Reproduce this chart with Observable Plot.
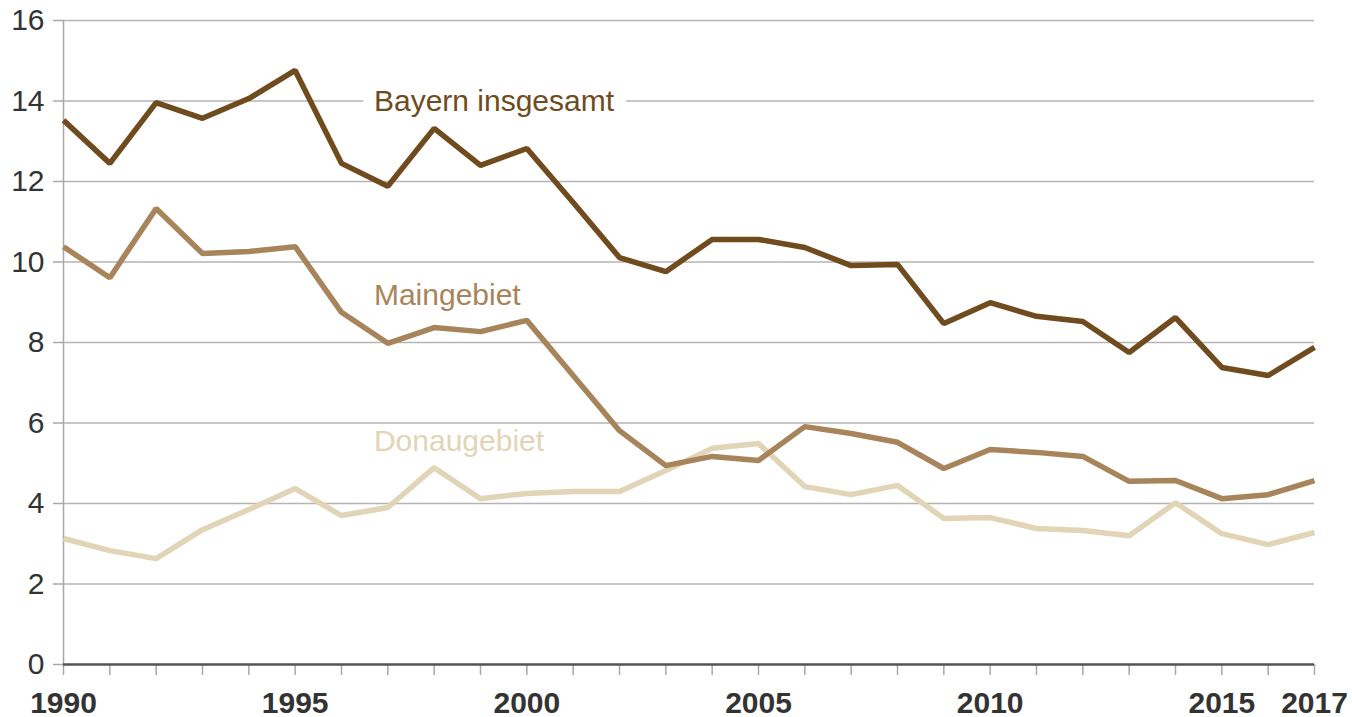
<!DOCTYPE html>
<html>
<head>
<meta charset="utf-8">
<script src="https://cdn.jsdelivr.net/npm/d3@7"></script>
<script src="https://cdn.jsdelivr.net/npm/@observablehq/plot@0.6"></script>
<style>
  html, body { margin: 0; padding: 0; background: #fff; }
  #chart { width: 1352px; height: 717px; }
</style>
</head>
<body>
<div id="chart"></div>
<script>
const years = d3.range(1990, 2018);
const labeledYears = [1990, 1995, 2000, 2005, 2010, 2015, 2017];
const yTicks = [0, 2, 4, 6, 8, 10, 12, 14, 16];

const bayern = [13.52, 12.45, 13.96, 13.57, 14.06, 14.76, 12.45, 11.88, 13.32, 12.40,
                12.82, 11.48, 10.11, 9.76, 10.56, 10.56, 10.36, 9.91, 9.94, 8.47,
                8.99, 8.65, 8.52, 7.75, 8.62, 7.38, 7.18, 7.88];
const main   = [10.38, 9.61, 11.33, 10.21, 10.26, 10.38, 8.75, 7.98, 8.37, 8.27,
                8.55, 7.18, 5.81, 4.94, 5.17, 5.07, 5.91, 5.74, 5.52, 4.87,
                5.34, 5.27, 5.17, 4.55, 4.57, 4.12, 4.22, 4.57];
const donau  = [3.13, 2.83, 2.63, 3.35, 3.85, 4.37, 3.70, 3.90, 4.89, 4.12,
                4.25, 4.30, 4.30, 4.82, 5.37, 5.49, 4.42, 4.22, 4.45, 3.63,
                3.65, 3.38, 3.33, 3.20, 4.02, 3.25, 2.98, 3.28];

const seriesNames = ["Bayern insgesamt", "Maingebiet", "Donaugebiet"];
const seriesColors = ["#6f4b1e", "#a8845a", "#e2d5b7"];
const labelYears = [1996.7, 1996.7, 1996.7];
const labelValues = [14, 9.17, 5.54];

const rows = [];
[bayern, main, donau].forEach((vals, i) => {
  vals.forEach((v, j) => rows.push({series: seriesNames[i], year: years[j], value: v}));
});
const labels = seriesNames.map((s, i) => ({series: s, year: labelYears[i], value: labelValues[i]}));

const font = "'Liberation Sans', Arial, Helvetica, sans-serif";

const chart = Plot.plot({
  width: 1352,
  height: 717,
  marginLeft: 63,
  marginRight: 38,
  marginTop: 20,
  marginBottom: 53,
  style: {fontFamily: font, background: "#fff", overflow: "visible"},
  x: {domain: [1990, 2017]},
  y: {domain: [0, 16]},
  color: {domain: seriesNames, range: seriesColors},
  marks: [
    Plot.ruleY(yTicks.filter(d => d > 0), {x1: 1990, x2: 2017, stroke: "#b5b5b5", strokeWidth: 1.5}),
    Plot.ruleX([1990], {y1: 0, y2: 16, stroke: "#a8a8a8", strokeWidth: 1.5}),
    Plot.axisY(yTicks, {
      tickSize: 10, tickPadding: 9, fontSize: 30, fill: "#333", stroke: "#a8a8a8",
      strokeWidth: 1.5, label: null, tickFormat: d => String(d)
    }),
    Plot.axisX(years, {
      tickSize: 11, tickPadding: 16, fontSize: 30, fontWeight: "bold", fill: "#333",
      stroke: "#a8a8a8", strokeWidth: 1.5, label: null,
      tickFormat: d => labeledYears.includes(d) ? String(d) : ""
    }),
    Plot.ruleY([0], {x1: 1990, x2: 2017, stroke: "#555", strokeWidth: 2.5}),
    Plot.text(labels, {
      x: "year", y: "value", text: "series", fill: "series",
      textAnchor: "start", fontSize: 30, stroke: "white", strokeWidth: 26,
      paintOrder: "stroke", filter: d => d.series === "Bayern insgesamt"
    }),
    Plot.text(labels, {
      x: "year", y: "value", text: "series", fill: "series",
      textAnchor: "start", fontSize: 30, filter: d => d.series !== "Bayern insgesamt"
    }),
    Plot.line(rows, {
      x: "year", y: "value", z: "series", stroke: "series",
      strokeWidth: 5.5, strokeLinejoin: "miter", strokeLinecap: "butt",
      sort: (a, b) => seriesNames.indexOf(b.series) - seriesNames.indexOf(a.series)
    })
  ]
});
document.getElementById("chart").appendChild(chart);
</script>
</body>
</html>
